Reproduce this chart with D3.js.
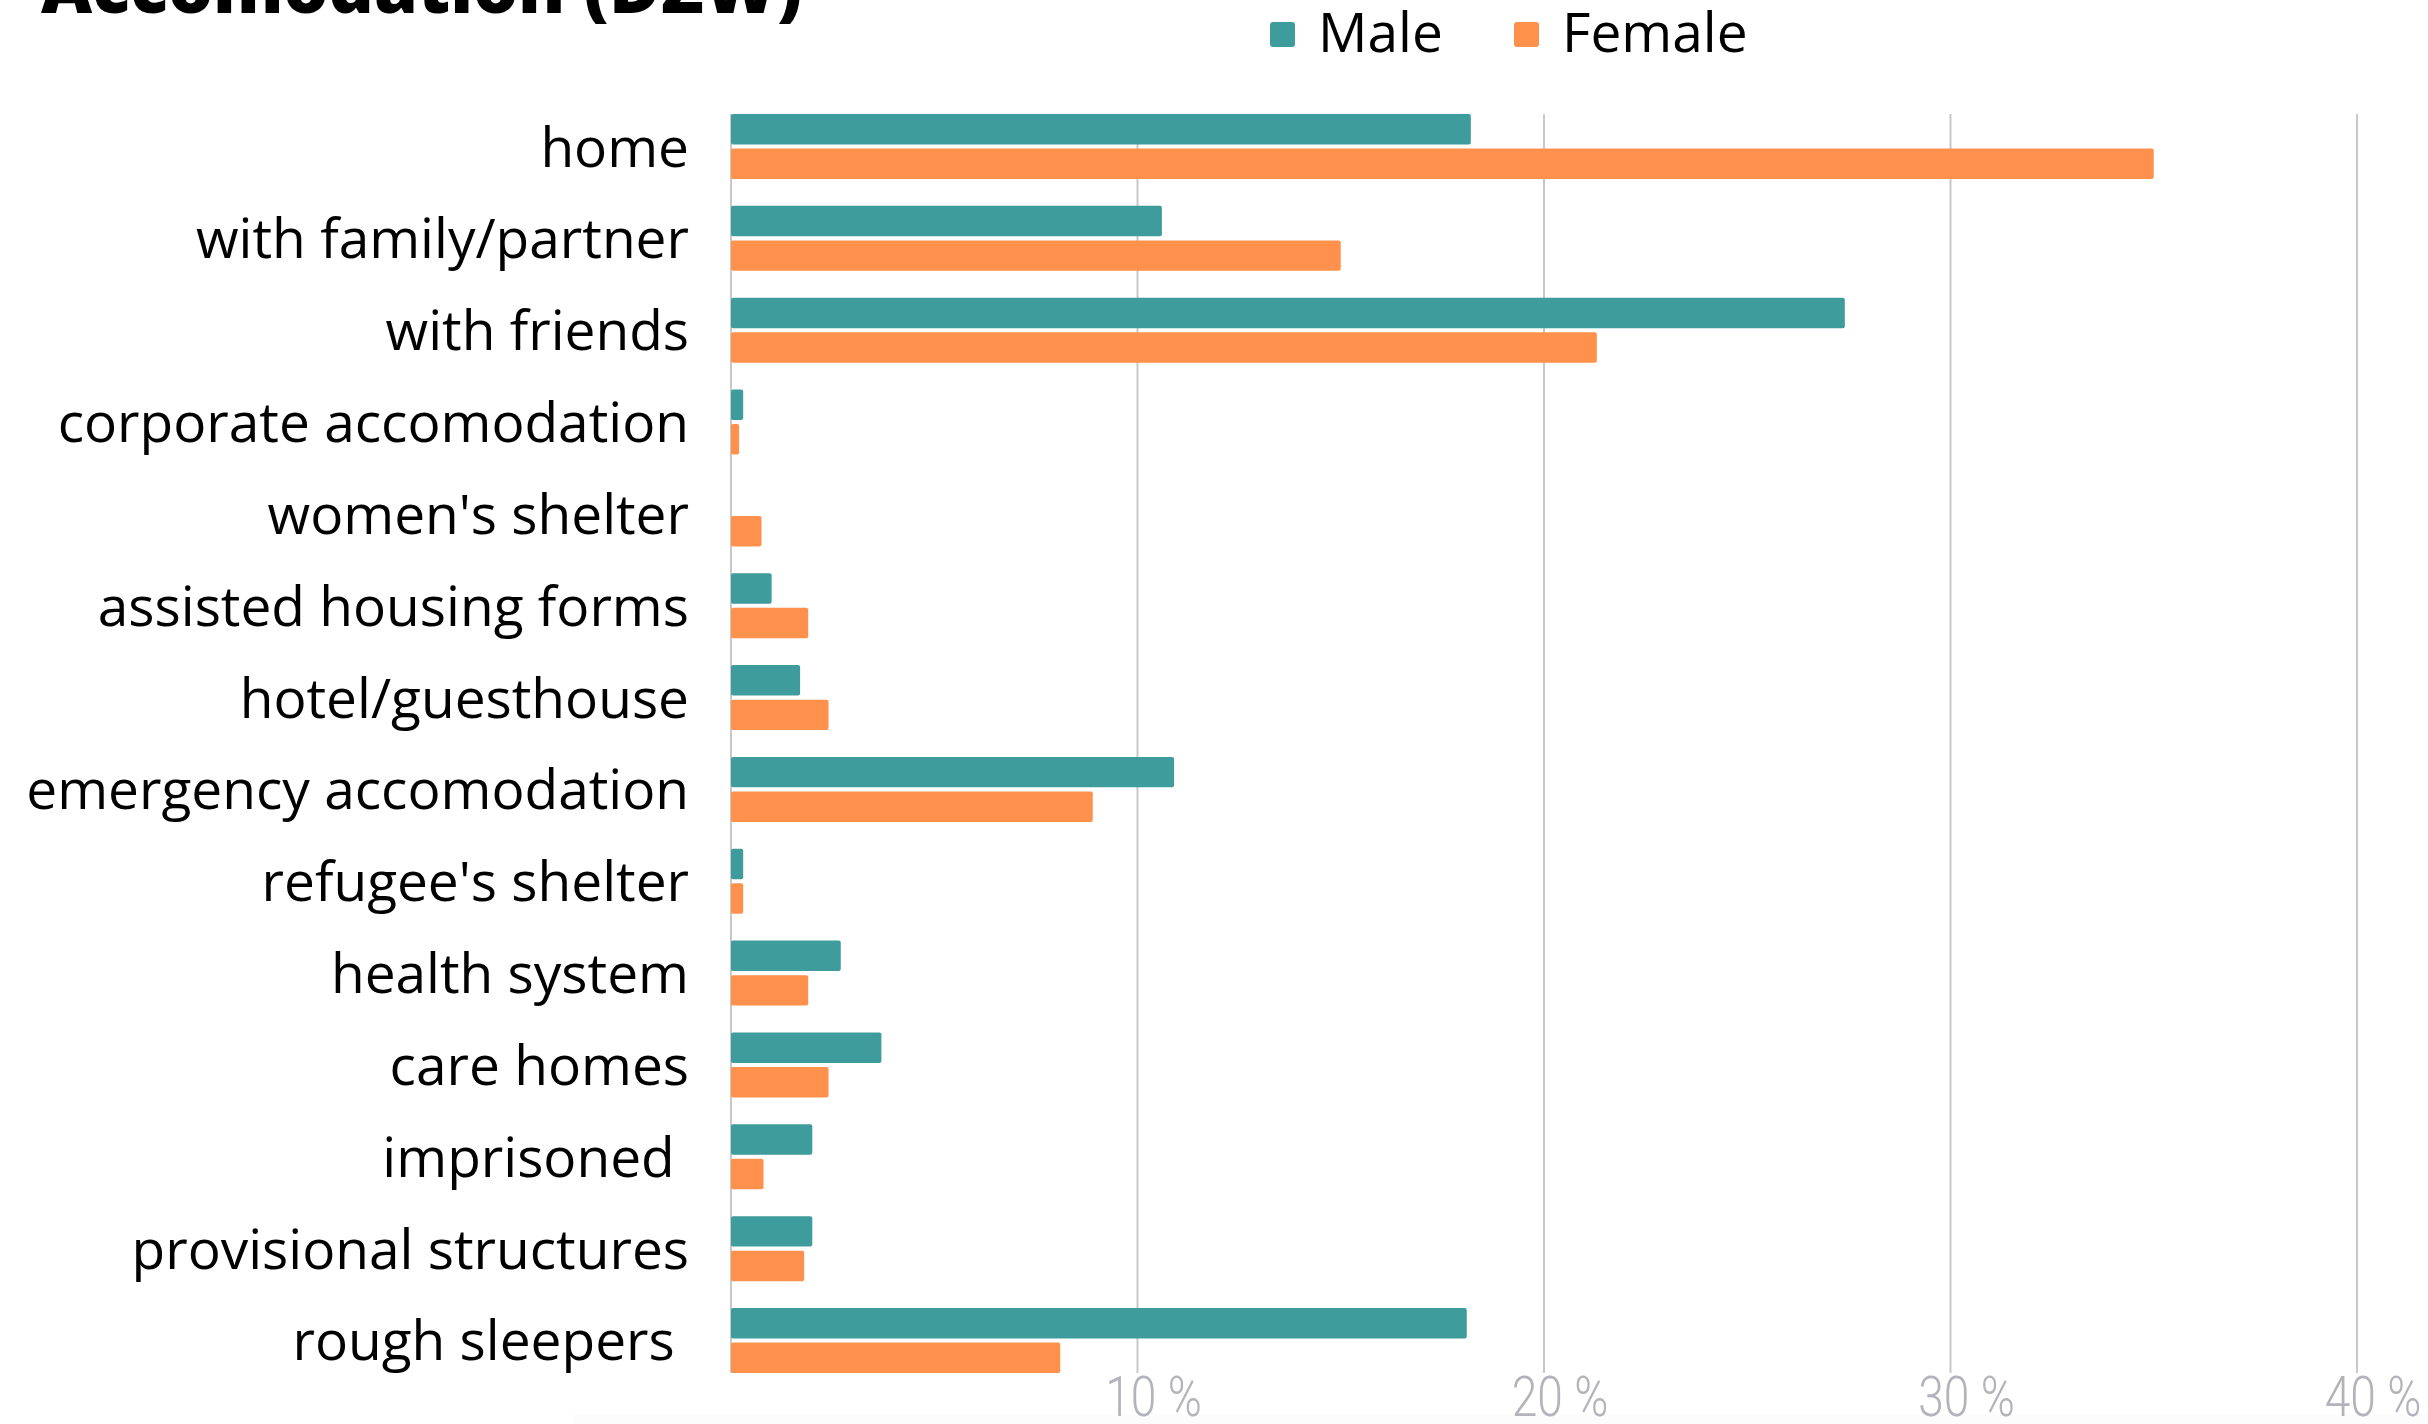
<!DOCTYPE html>
<html>
<head>
<meta charset="utf-8">
<script src="https://cdn.jsdelivr.net/npm/d3@7"></script>
<style>
  html, body { margin: 0; padding: 0; background: #ffffff; }
  svg { display: block; }
  text { white-space: pre; }
</style>
</head>
<body>
<svg id="chart" width="2428" height="1424"></svg>
<script>
const categories = [
  "home", "with family/partner", "with friends", "corporate accomodation",
  "women's shelter", "assisted housing forms", "hotel/guesthouse",
  "emergency accomodation", "refugee's shelter", "health system",
  "care homes", "imprisoned ", "provisional structures", "rough sleepers "
];
const seriesNames = ["Male", "Female"];
const maleValues   = [18.2, 10.6, 27.4, 0.3, 0.0, 1.0, 1.7, 10.9, 0.3, 2.7, 3.7, 2.0, 2.0, 18.1];
const femaleValues = [35.0, 15.0, 21.3, 0.2, 0.75, 1.9, 2.4, 8.9, 0.3, 1.9, 2.4, 0.8, 1.8, 8.1];
const tickValues = [10, 20, 30, 40];
const tickLabels = ["10 %", "20 %", "30 %", "40 %"];
const titleText = "Accomodation (DZW)";
const colors = ["#3f9c9c", "#ff914d"];

const svg = d3.select("#chart");

const x = d3.scaleLinear().domain([0, 40]).range([731, 2357]);
const y = d3.scaleBand().domain(categories).range([114, 1373]).paddingInner(0.292).paddingOuter(0);
const ySub = d3.scaleBand().domain(seriesNames).range([0, y.bandwidth()]).paddingInner(0.12);

// faint bottom band
svg.append("rect").attr("x", 573).attr("y", 1414).attr("width", 2428 - 573).attr("height", 10).attr("fill", "#fcfcfc");

// gridlines
const gridVals = [0].concat(tickValues);
svg.append("g").selectAll("line").data(gridVals).join("line")
  .attr("x1", d => x(d)).attr("x2", d => x(d))
  .attr("y1", y.range()[0]).attr("y2", y.range()[1])
  .attr("stroke", "#c8c8c8").attr("stroke-width", 2);

// bars
const rows = categories.map((c, i) => ({ cat: c, vals: [maleValues[i], femaleValues[i]] }));
const g = svg.append("g");
rows.forEach(r => {
  r.vals.forEach((v, j) => {
    if (v <= 0) return;
    g.append("rect")
      .attr("x", x(0))
      .attr("y", y(r.cat) + ySub(seriesNames[j]))
      .attr("width", x(v) - x(0))
      .attr("height", ySub.bandwidth())
      .attr("rx", 2)
      .attr("fill", colors[j]);
  });
});

// category labels
svg.append("g").selectAll("text").data(categories).join("text")
  .attr("x", 689)
  .attr("y", d => y(d) + y.bandwidth() / 2 + 20)
  .attr("text-anchor", "end")
  .attr("font-family", "'Open Sans', sans-serif")
  .attr("font-size", 55)
  .attr("fill", "#000")
  .text(d => d);

// x tick labels (narrow, tall digits)
svg.append("g").selectAll("text").data(tickValues).join("text")
  .attr("transform", d => `translate(${x(d) + 16},1416) scale(0.84,1)`)
  .attr("text-anchor", "middle")
  .attr("font-family", "Roboto, sans-serif")
  .attr("font-weight", 300)
  .attr("font-size", 55)
  .attr("fill", "#b3b3bb")
  .text((d, i) => tickLabels[i]);

// legend
const legendX = [1270, 1514];
const lg = svg.append("g");
seriesNames.forEach((s, i) => {
  lg.append("rect").attr("x", legendX[i]).attr("y", 22).attr("width", 25).attr("height", 25)
    .attr("rx", 3).attr("fill", colors[i]);
  lg.append("text").attr("x", legendX[i] + 48).attr("y", 52)
    .attr("font-family", "'Open Sans', sans-serif").attr("font-size", 55)
    .attr("fill", "#000").text(s);
});

// title (cut off at top)
svg.append("text").attr("x", 41).attr("y", 13)
  .attr("font-family", "'Open Sans', sans-serif").attr("font-weight", 800)
  .attr("font-size", 70.5).attr("fill", "#000").text(titleText);
</script>
</body>
</html>
